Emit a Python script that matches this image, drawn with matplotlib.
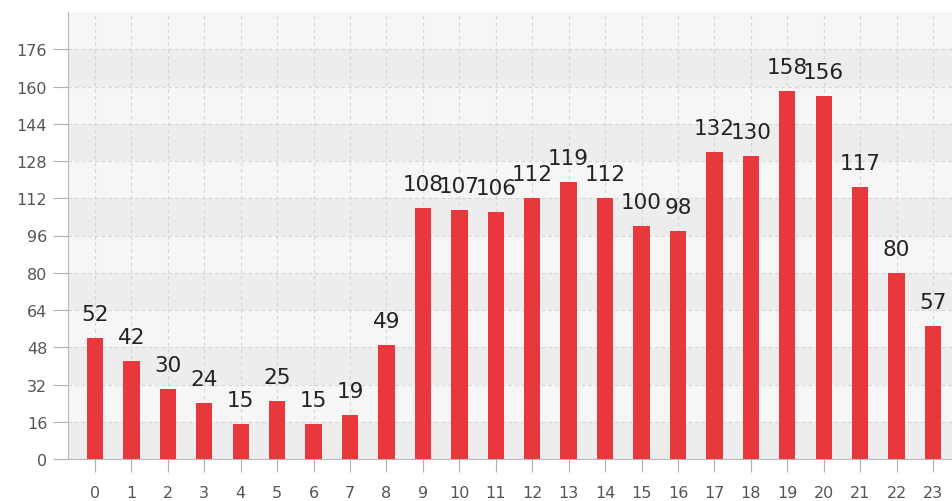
import matplotlib.pyplot as plt
import numpy as np

hours = [str(h) for h in range(24)]
counts = [52, 42, 30, 24, 15, 25, 15, 19, 49, 108, 107, 106, 112, 119, 112, 100, 98, 132, 130, 158, 156, 117, 80, 57]
yticks = list(range(0, 177, 16))

fig = plt.figure(figsize=(9.52, 5.02), dpi=100)
ax = fig.add_axes([68/952, 42/502, 892/952, 447/502])

x = np.arange(len(hours))
ax.set_xlim(-0.74, 23.74)
ax.set_ylim(0, 192)

# alternating horizontal bands
ax.set_facecolor('#f6f6f6')
for lo in range(0, 192, 32):
    ax.axhspan(lo, lo + 16, color='#ededed', zorder=0, lw=0)

ax.grid(True, color='#d4d4d4', linestyle=(0, (3, 3)), linewidth=0.8, zorder=1)
ax.set_axisbelow(True)

ax.bar(x, counts, width=0.45, color='#e8383e', zorder=3)

for xi, v in zip(x, counts):
    ax.annotate(str(v), (xi, v), xytext=(0, 10), textcoords='offset points',
                ha='center', va='bottom', fontsize=15.5, color='#222222', zorder=4)

ax.set_xticks(x)
ax.set_xticklabels(hours)
ax.set_yticks(yticks)
ax.tick_params(axis='y', length=11, width=0.8, color='#b0b0b0', labelsize=11.5,
               labelcolor='#555555', pad=4)
ax.tick_params(axis='x', length=9, width=0.8, color='#b0b0b0', labelsize=11.5,
               labelcolor='#555555', pad=10)

for s in ['top', 'right']:
    ax.spines[s].set_visible(False)
ax.spines['left'].set_color('#b8b8b8')
ax.spines['bottom'].set_color('#b8b8b8')

fig.savefig('out.png', dpi=100)
